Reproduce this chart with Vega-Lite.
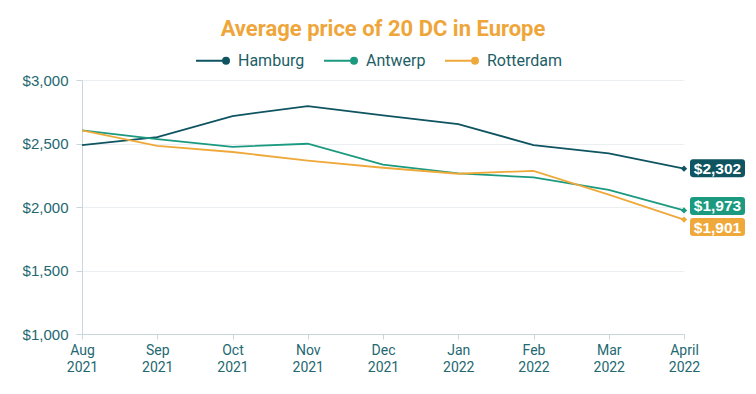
{
  "$schema": "https://vega.github.io/schema/vega-lite/v6.json",
  "width": 602,
  "height": 254,
  "autosize": "none",
  "padding": {"left": 82, "top": 80, "right": 72, "bottom": 60},
  "background": "white",
  "title": {
    "text": "Average price of 20 DC in Europe",
    "color": "#EEA63A",
    "fontSize": 22,
    "font": "Roboto",
    "fontWeight": "bold",
    "anchor": "middle",
    "offset": 2
  },
  "config": {
    "view": {"stroke": null},
    "font": "Roboto"
  },
  "data": {
    "values": [
      {"month": "Aug 2021", "series": "Hamburg", "price": 2488},
      {"month": "Sep 2021", "series": "Hamburg", "price": 2550},
      {"month": "Oct 2021", "series": "Hamburg", "price": 2716},
      {"month": "Nov 2021", "series": "Hamburg", "price": 2795},
      {"month": "Dec 2021", "series": "Hamburg", "price": 2722},
      {"month": "Jan 2022", "series": "Hamburg", "price": 2652},
      {"month": "Feb 2022", "series": "Hamburg", "price": 2488},
      {"month": "Mar 2022", "series": "Hamburg", "price": 2423},
      {"month": "April 2022", "series": "Hamburg", "price": 2302},
      {"month": "Aug 2021", "series": "Antwerp", "price": 2603},
      {"month": "Sep 2021", "series": "Antwerp", "price": 2535},
      {"month": "Oct 2021", "series": "Antwerp", "price": 2474},
      {"month": "Nov 2021", "series": "Antwerp", "price": 2498},
      {"month": "Dec 2021", "series": "Antwerp", "price": 2334},
      {"month": "Jan 2022", "series": "Antwerp", "price": 2264},
      {"month": "Feb 2022", "series": "Antwerp", "price": 2233},
      {"month": "Mar 2022", "series": "Antwerp", "price": 2134},
      {"month": "April 2022", "series": "Antwerp", "price": 1973},
      {"month": "Aug 2021", "series": "Rotterdam", "price": 2603},
      {"month": "Sep 2021", "series": "Rotterdam", "price": 2482},
      {"month": "Oct 2021", "series": "Rotterdam", "price": 2433},
      {"month": "Nov 2021", "series": "Rotterdam", "price": 2365},
      {"month": "Dec 2021", "series": "Rotterdam", "price": 2309},
      {"month": "Jan 2022", "series": "Rotterdam", "price": 2262},
      {"month": "Feb 2022", "series": "Rotterdam", "price": 2285},
      {"month": "Mar 2022", "series": "Rotterdam", "price": 2098},
      {"month": "April 2022", "series": "Rotterdam", "price": 1901}
    ]
  },
  "encoding": {
    "x": {
      "field": "month",
      "type": "ordinal",
      "sort": ["Aug 2021", "Sep 2021", "Oct 2021", "Nov 2021", "Dec 2021", "Jan 2022", "Feb 2022", "Mar 2022", "April 2022"],
      "scale": {"type": "point", "padding": 0},
      "axis": {
        "title": null,
        "labelExpr": "split(datum.label, ' ')",
        "labelAngle": 0,
        "labelFont": "Roboto",
        "labelFontSize": 14,
        "labelColor": "#236870",
        "labelLineHeight": 17,
        "labelPadding": 4,
        "domainColor": "#c9d6db",
        "tickColor": "#c9d6db",
        "tickSize": 5,
        "grid": false
      }
    },
    "y": {
      "field": "price",
      "type": "quantitative",
      "scale": {"domain": [1000, 3000]},
      "axis": {
        "title": null,
        "values": [1000, 1500, 2000, 2500, 3000],
        "format": "$,.0f",
        "labelFont": "Liberation Sans",
        "labelFontSize": 15,
        "labelColor": "#236870",
        "labelPadding": 8,
        "domainColor": "#c9d6db",
        "tickColor": "#c9d6db",
        "tickSize": 6,
        "gridColor": "#eceff1"
      }
    },
    "color": {
      "field": "series",
      "type": "nominal",
      "scale": {"domain": ["Hamburg", "Antwerp", "Rotterdam"], "range": ["#0E5461", "#1B9A80", "#EFA93A"]},
      "legend": {
        "title": null,
        "orient": "none",
        "legendX": 113,
        "legendY": -37,
        "direction": "horizontal",
        "labelFont": "Roboto",
        "labelFontSize": 16,
        "labelColor": "#1D5E66",
        "symbolType": "M-1,0L0.8,0M1,0A0.18,0.18,0,1,1,0.64,0A0.18,0.18,0,1,1,1,0Z",
        "symbolSize": 1089,
        "symbolStrokeWidth": 2,
        "labelOffset": 8,
        "columnPadding": 15,
        "encode": {
          "symbols": {"update": {"fill": {"signal": "scale('color', datum.value)"}, "stroke": {"signal": "scale('color', datum.value)"}}}
        }
      }
    }
  },
  "layer": [
    {"mark": {"type": "line", "strokeWidth": 1.8}},
    {
      "transform": [{"filter": "datum.month === 'April 2022'"}],
      "mark": {"type": "point", "filled": true, "size": 40, "opacity": 1, "shape": "diamond"}
    },
    {
      "transform": [{"filter": "datum.month === 'April 2022' && datum.series === 'Hamburg'"}],
      "layer": [
        {"mark": {"type": "point", "filled": true, "opacity": 1, "size": 3025, "xOffset": 33.5, "yOffset": -0.5, "shape": "M-0.89,-0.327H0.89Q1,-0.327,1,-0.217V0.217Q1,0.327,0.89,0.327H-0.89Q-1,0.327,-1,0.217V-0.217Q-1,-0.327,-0.89,-0.327Z"}},
        {"mark": {"type": "text", "xOffset": 33.5, "yOffset": 0, "font": "Liberation Sans", "fontWeight": "bold", "fontSize": 15.5, "baseline": "middle", "align": "center"}, "encoding": {"text": {"field": "price", "format": "$,.0f"}, "color": {"value": "white"}}}
      ]
    },
    {
      "transform": [{"filter": "datum.month === 'April 2022' && datum.series === 'Antwerp'"}],
      "layer": [
        {"mark": {"type": "point", "filled": true, "opacity": 1, "size": 3025, "xOffset": 33.5, "yOffset": -4.5, "shape": "M-0.89,-0.327H0.89Q1,-0.327,1,-0.217V0.217Q1,0.327,0.89,0.327H-0.89Q-1,0.327,-1,0.217V-0.217Q-1,-0.327,-0.89,-0.327Z"}},
        {"mark": {"type": "text", "xOffset": 33.5, "yOffset": -4, "font": "Liberation Sans", "fontWeight": "bold", "fontSize": 15.5, "baseline": "middle", "align": "center"}, "encoding": {"text": {"field": "price", "format": "$,.0f"}, "color": {"value": "white"}}}
      ]
    },
    {
      "transform": [{"filter": "datum.month === 'April 2022' && datum.series === 'Rotterdam'"}],
      "layer": [
        {"mark": {"type": "point", "filled": true, "opacity": 1, "size": 3025, "xOffset": 33.5, "yOffset": 7.5, "shape": "M-0.89,-0.327H0.89Q1,-0.327,1,-0.217V0.217Q1,0.327,0.89,0.327H-0.89Q-1,0.327,-1,0.217V-0.217Q-1,-0.327,-0.89,-0.327Z"}},
        {"mark": {"type": "text", "xOffset": 33.5, "yOffset": 8, "font": "Liberation Sans", "fontWeight": "bold", "fontSize": 15.5, "baseline": "middle", "align": "center"}, "encoding": {"text": {"field": "price", "format": "$,.0f"}, "color": {"value": "white"}}}
      ]
    }
  ]
}
